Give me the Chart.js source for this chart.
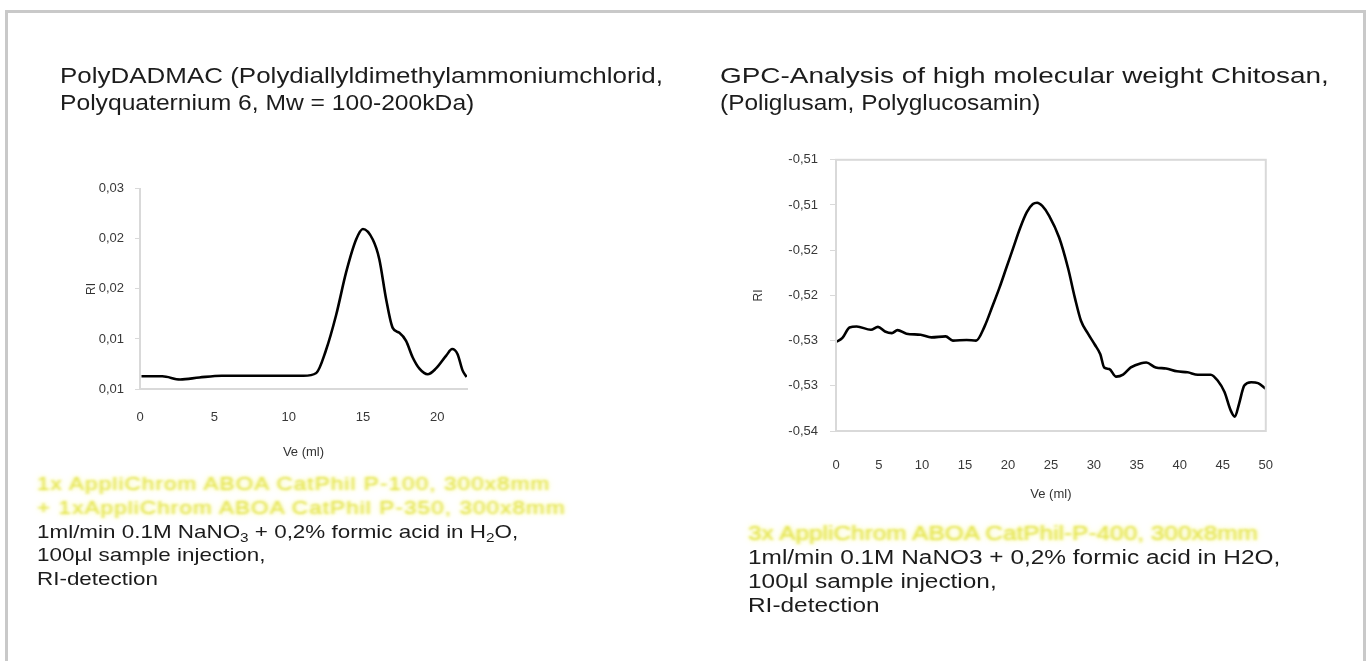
<!DOCTYPE html>
<html>
<head>
<meta charset="utf-8">
<script src="https://cdn.jsdelivr.net/npm/chart.js@4.4.1/dist/chart.umd.min.js"></script>
<style>
  html, body { margin: 0; padding: 0; background: #fff; width: 1370px; height: 661px; overflow: hidden;
    font-family: "Liberation Sans", Arial, sans-serif; }
  #frame { position: absolute; left: 5px; top: 10px; width: 1355px; height: 700px; border: 3px solid #c9c9c9; }
  .txt { position: absolute; transform-origin: 0 0; white-space: nowrap; color: #1c1c1c; }
  .title { font-size: 22px; line-height: 27px; }
  .note-l { font-size: 19px; line-height: 23.8px; transform: scaleX(1.18); }
  .note-r { font-size: 20px; line-height: 24px; transform: scaleX(1.22); }
  .hl { color: #e4e44e; filter: blur(1.2px); text-shadow: 0 0 3px #f4f48a, 0 0 7px #f8f8b0; }
  .note-l .hl { letter-spacing: 0.95px; }
  sub { font-size: 13px; line-height: 0; vertical-align: -0.3em; }
  .box { position: absolute; }
</style>
</head>
<body>
<div id="frame"></div>

<div class="txt title" style="left:60px; top:62px; transform:scaleX(1.18);">PolyDADMAC (Polydiallyldimethylammoniumchlorid,</div>
<div class="txt title" style="left:60px; top:89px; transform:scaleX(1.12);">Polyquaternium 6, Mw = 100-200kDa)</div>
<div class="txt title" style="left:720px; top:62px; transform:scaleX(1.27);">GPC-Analysis of high molecular weight Chitosan,</div>
<div class="txt title" style="left:720px; top:89px; transform:scaleX(1.11);">(Poliglusam, Polyglucosamin)</div>

<div class="txt note-l" style="left:37px; top:472px;">
  <span class="hl">1x AppliChrom ABOA CatPhil P-100, 300x8mm</span><br>
  <span class="hl">+ 1xAppliChrom ABOA CatPhil P-350, 300x8mm</span><br>
  1ml/min 0.1M NaNO<sub>3</sub> + 0,2% formic acid in H<sub>2</sub>O,<br>
  100µl sample injection,<br>
  RI-detection
</div>
<div class="txt note-r" style="left:748px; top:521px;">
  <span class="hl">3x AppliChrom ABOA CatPhil-P-400, 300x8mm</span><br>
  1ml/min 0.1M NaNO3 + 0,2% formic acid in H2O,<br>
  100µl sample injection,<br>
  RI-detection
</div>

<div class="box" style="left:60px; top:170px;"><canvas id="chart-left" width="420" height="300"></canvas></div>
<div class="box" style="left:740px; top:140px;"><canvas id="chart-right" width="560" height="380"></canvas></div>

<script>
"use strict";

// --- PolyDADMAC chromatogram (left) ---
const veLeft = [0.1, 1.5, 2.7, 4.0, 5.5, 7.5, 9.5, 11.0, 11.86, 12.5, 13.2, 13.87, 14.54, 15.0,
  15.66, 16.1, 16.55, 17.0, 17.45, 17.9, 18.34, 18.8, 19.35, 19.9, 20.6, 21.0, 21.36, 21.7, 21.97];
const riLeft = [0.00627, 0.00627, 0.00595, 0.00615, 0.00632, 0.00632, 0.00632, 0.00632, 0.0066,
  0.00882, 0.01242, 0.01667, 0.01993, 0.02098, 0.01993, 0.01797, 0.01405, 0.01111, 0.01062, 0.0098,
  0.00817, 0.00703, 0.00647, 0.00703, 0.00833, 0.00899, 0.0085, 0.00686, 0.0062];
const xLabelsLeft = ["0", "5", "10", "15", "20"];
const yLabelsLeft = ["0,01", "0,01", "0,02", "0,02", "0,03"];   // bottom → top

// --- Chitosan chromatogram (right) ---
const veRight = [0, 0.75, 1.57, 2.4, 4.06, 4.88, 5.7, 6.5, 7.16, 8.2, 9.85, 11.1, 12.75, 13.6, 15.2,
  16.3, 17.3, 18.2, 19.0, 19.8, 20.6, 21.4, 22.2, 22.9, 23.4, 24.0, 24.8, 25.96, 27.0, 27.8, 28.5,
  29.3, 30.1, 30.75, 31.2, 31.8, 32.6, 33.4, 34.3, 35.5, 36.1, 37.2, 38.4, 39.65, 40.9, 42.1, 43.6,
  44.4, 45.2, 45.9, 46.4, 46.9, 47.5, 48.3, 49.1, 50];
const riRight = [-0.52515, -0.5247, -0.52355, -0.52344, -0.5238, -0.52348, -0.52399, -0.52417,
  -0.52384, -0.52424, -0.52435, -0.52464, -0.52453, -0.525, -0.52493, -0.525, -0.5234, -0.5212,
  -0.5192, -0.517, -0.5148, -0.5126, -0.5108, -0.5099, -0.50975, -0.5101, -0.5112, -0.5136,
  -0.517, -0.5203, -0.5228, -0.5242, -0.52543, -0.52652, -0.52797, -0.52815, -0.52899, -0.52877,
  -0.52797, -0.5275, -0.52743, -0.52797, -0.52808, -0.5284, -0.52851, -0.52877, -0.52877, -0.52942,
  -0.53069, -0.53268, -0.53341, -0.53196, -0.52996, -0.5296, -0.52971, -0.53033];
const xLabelsRight = ["0", "5", "10", "15", "20", "25", "30", "35", "40", "45", "50"];
const yLabelsRight = ["-0,54", "-0,53", "-0,53", "-0,52", "-0,52", "-0,51", "-0,51"];

const C = {
  line:  "#000000",
  axis:  "#d9d9d9",
  tick:  "#383838",
};
const FONT = "'Liberation Sans', Arial, sans-serif";

Chart.defaults.font.family = FONT;
Chart.defaults.color = C.tick;

function toPoints(xs, ys) {
  return xs.map((x, i) => ({ x, y: ys[i] }));
}

// light grey frame round the plot area (right chart only)
const plotBox = {
  id: "plotBox",
  afterDraw(chart) {
    const { ctx, chartArea: a } = chart;
    ctx.save();
    ctx.strokeStyle = C.axis;
    ctx.lineWidth = 2;
    ctx.strokeRect(a.left, a.top, a.right - a.left, a.bottom - a.top);
    ctx.restore();
  },
};

function lineDataset(xs, ys) {
  return {
    data: toPoints(xs, ys),
    borderColor: C.line,
    borderWidth: 2.6,
    pointRadius: 0,
    fill: false,
    cubicInterpolationMode: "monotone",
  };
}

function renderLeft() {
  new Chart(document.getElementById("chart-left"), {
    type: "line",
    data: { datasets: [lineDataset(veLeft, riLeft)] },
    options: {
      responsive: false,
      animation: false,
      layout: { padding: { top: 15, right: 13, left: 0, bottom: 0 } },
      plugins: { legend: { display: false }, tooltip: { enabled: false } },
      scales: {
        x: {
          type: "linear", min: 0, max: 22,
          afterFit: (s) => { s.height = 81; },
          grid: { drawOnChartArea: false, drawTicks: false },
          border: { color: C.axis, width: 2 },
          ticks: { stepSize: 5, includeBounds: false, padding: 21, maxRotation: 0,
            font: { size: 13 }, callback: (v, i) => xLabelsLeft[i] },
          title: { display: true, text: "Ve (ml)", font: { size: 13 }, color: "#333",
            padding: { top: 0, bottom: 10 } },
        },
        y: {
          min: 0.005, max: 0.025,
          afterFit: (s) => { s.width = 80; },
          grid: { drawOnChartArea: false, drawTicks: true, tickLength: 5, color: C.axis },
          border: { color: C.axis, width: 2 },
          ticks: { stepSize: 0.005, padding: 11, font: { size: 13 },
            callback: (v, i) => yLabelsLeft[i] },
          title: { display: true, text: "RI", font: { size: 12 }, color: "#333",
            padding: { top: 24, bottom: 0 } },
        },
      },
    },
  });
}

function renderRight() {
  new Chart(document.getElementById("chart-right"), {
    type: "line",
    data: { datasets: [lineDataset(veRight, riRight)] },
    options: {
      responsive: false,
      animation: false,
      layout: { padding: { top: 15, right: 32, left: 0, bottom: 0 } },
      plugins: { legend: { display: false }, tooltip: { enabled: false } },
      scales: {
        x: {
          type: "linear", min: 0, max: 50,
          afterFit: (s) => { s.height = 89; },
          grid: { drawOnChartArea: false, drawTicks: false },
          border: { color: C.axis, width: 2 },
          ticks: { stepSize: 5, autoSkip: false, padding: 27, maxRotation: 0,
            font: { size: 13 }, callback: (v, i) => xLabelsRight[i] },
          title: { display: true, text: "Ve (ml)", font: { size: 13 }, color: "#333",
            padding: { top: 0, bottom: 18 } },
        },
        y: {
          min: -0.535, max: -0.505,
          afterFit: (s) => { s.width = 96; },
          grid: { drawOnChartArea: false, drawTicks: true, tickLength: 6, color: C.axis },
          border: { color: C.axis, width: 2 },
          ticks: { stepSize: 0.005, padding: 12, font: { size: 13 },
            callback: (v, i) => yLabelsRight[i] },
          title: { display: true, text: "RI", font: { size: 12 }, color: "#333",
            padding: { top: 11, bottom: 0 } },
        },
      },
    },
    plugins: [plotBox],
  });
}

renderLeft();
renderRight();
</script>
</body>
</html>
